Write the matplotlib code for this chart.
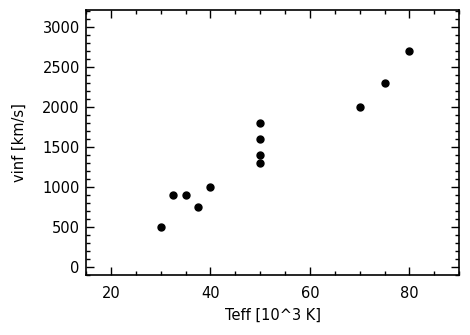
import numpy as np
import matplotlib
matplotlib.use('Agg')
import matplotlib.pyplot as plt
from matplotlib.ticker import MultipleLocator

# data
teff = [30, 32.5, 35, 37.5, 40, 50, 50, 50, 50, 70, 75, 80]
vinf = [500, 900, 900, 750, 1000, 1300, 1400, 1600, 1800, 2000, 2300, 2700]

plt.rcParams['font.family'] = ['DejaVu Sans']

fig = plt.figure(figsize=(4.7, 3.35), dpi=100)
ax = fig.add_axes([0.183, 0.179, 0.794, 0.791])
ax.plot(teff, vinf, 'o', color='black', markersize=5)

ax.set_xlim(15, 90)
ax.set_ylim(-100, 3210)
ax.xaxis.set_major_locator(MultipleLocator(20))
ax.xaxis.set_minor_locator(MultipleLocator(5))
ax.yaxis.set_major_locator(MultipleLocator(500))
ax.yaxis.set_minor_locator(MultipleLocator(100))
ax.tick_params(which='both', direction='in', top=True, right=True, labelsize=10.5, width=1)
ax.tick_params(which='major', length=6)
ax.tick_params(which='minor', length=3)
ax.tick_params(axis='x', which='major', pad=8)
ax.tick_params(axis='y', which='major', pad=4.5)
for s in ax.spines.values():
    s.set_linewidth(1.2)

ax.set_xlabel('Teff [10^3 K]', fontsize=10.5, labelpad=5)
ax.set_ylabel('vinf [km/s]', fontsize=10.5, labelpad=11)

plt.savefig('out.png', dpi=100)
